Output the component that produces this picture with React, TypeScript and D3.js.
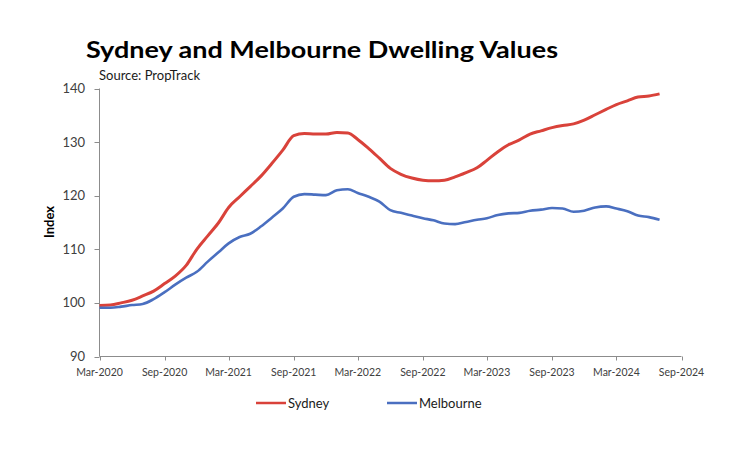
import React from "react";
import * as d3 from "d3";

const startYear = 2020;
const startMonth = 2; // March (0-based)
const sydney = [
  99.5, 99.6, 100.0, 100.5, 101.3, 102.2, 103.6, 105.0, 107.0, 110.0,
  112.5, 115.0, 117.8, 119.8, 121.7, 123.7, 126.0, 128.5, 131.2, 131.6,
  131.5, 131.5, 131.8, 131.7, 130.5, 128.8, 127.0, 125.1, 124.0, 123.3,
  122.9, 122.8, 122.9, 123.5, 124.3, 125.2, 126.6, 128.2, 129.5, 130.4,
  131.5, 132.1, 132.7, 133.1, 133.4, 134.1, 135.1, 136.1, 137.0, 137.7,
  138.4, 138.6, 139.0,
];
const melbourne = [
  99.1, 99.1, 99.3, 99.6, 99.8, 100.7, 102.0, 103.4, 104.7, 105.8,
  107.7, 109.5, 111.1, 112.3, 112.9, 114.3, 115.9, 117.6, 119.8, 120.3,
  120.2, 120.1, 121.0, 121.2, 120.5, 119.8, 118.9, 117.3, 116.8, 116.3,
  115.8, 115.4, 114.8, 114.7, 115.1, 115.5, 115.8, 116.4, 116.7, 116.8,
  117.2, 117.4, 117.7, 117.6, 117.0, 117.2, 117.8, 118.0, 117.6, 117.1,
  116.3, 116.0, 115.5,
];
const yTicks = [90, 100, 110, 120, 130, 140];
const xTickLabels = [
  "Mar-2020", "Sep-2020", "Mar-2021", "Sep-2021", "Mar-2022",
  "Sep-2022", "Mar-2023", "Sep-2023", "Mar-2024", "Sep-2024",
];
const seriesNames = ["Sydney", "Melbourne"];
const colors = ["#d9423a", "#4a6fc0"];

const W = 745;
const H = 452;
const left = 99.5;
const right = 681.5;
const top = 88.5;
const bottom = 356.5;
const font = "Lato, 'Open Sans', sans-serif";

export default function App() {
  const monthDate = (i: number) => new Date(startYear, startMonth + i, 1);
  const x = d3
    .scaleTime()
    .domain([monthDate(0), monthDate(54)])
    .range([left, right]);
  const y = d3.scaleLinear().domain([90, 140]).range([bottom, top]);
  const line = d3
    .line<number>()
    .x((_, i) => x(monthDate(i)))
    .y((d) => y(d))
    .curve(d3.curveMonotoneX);
  const xTickDates = xTickLabels.map((_, i) => monthDate(i * 6));
  const data = [sydney, melbourne];

  return (
    <svg
      width={W}
      height={H}
      style={{ position: "absolute", left: 0, top: 0, background: "#fff" }}
      fontFamily={font}
    >
      <text
        x={86}
        y={58}
        fontSize={23.5}
        fontWeight={700}
        fill="#000"
        textLength={472}
        lengthAdjust="spacingAndGlyphs"
      >
        Sydney and Melbourne Dwelling Values
      </text>
      <text x={99} y={80} fontSize={13} fill="#1a1a1a">
        Source: PropTrack
      </text>

      {/* axes */}
      <line x1={left} x2={left} y1={top} y2={bottom} stroke="#8c8c8c" strokeWidth={1} />
      <line x1={left} x2={right} y1={bottom} y2={bottom} stroke="#8c8c8c" strokeWidth={1} />
      {yTicks.map((t) => (
        <g key={t}>
          <line
            x1={left - 5}
            x2={left}
            y1={Math.round(y(t)) + 0.5}
            y2={Math.round(y(t)) + 0.5}
            stroke="#8c8c8c"
          />
          <text
            x={85}
            y={y(t) + 4.5}
            fontSize={13}
            textAnchor="end"
            fill="#404040"
          >
            {t}
          </text>
        </g>
      ))}
      {xTickDates.map((d, i) => (
        <g key={i}>
          <line
            x1={Math.round(x(d)) + 0.5}
            x2={Math.round(x(d)) + 0.5}
            y1={bottom}
            y2={bottom + 4}
            stroke="#8c8c8c"
          />
          <text
            x={x(d)}
            y={376}
            fontSize={10.5}
            textAnchor="middle"
            fill="#404040"
          >
            {xTickLabels[i]}
          </text>
        </g>
      ))}
      <text
        transform={`translate(54,222) rotate(-90)`}
        fontSize={13}
        fontWeight={700}
        textAnchor="middle"
        fill="#000"
      >
        Index
      </text>

      {data.map((s, i) => (
        <path
          key={i}
          d={line(s) || ""}
          fill="none"
          stroke={colors[i]}
          strokeWidth={i === 0 ? 3 : 2.6}
          strokeLinejoin="round"
        />
      ))}

      {/* legend */}
      {seriesNames.map((n, i) => {
        const lx = i === 0 ? 256 : 387;
        return (
          <g key={n}>
            <line
              x1={lx}
              x2={lx + 30}
              y1={403}
              y2={403}
              stroke={colors[i]}
              strokeWidth={2.5}
            />
            <text x={lx + 32} y={408} fontSize={13} fill="#1a1a1a">
              {n}
            </text>
          </g>
        );
      })}
    </svg>
  );
}
